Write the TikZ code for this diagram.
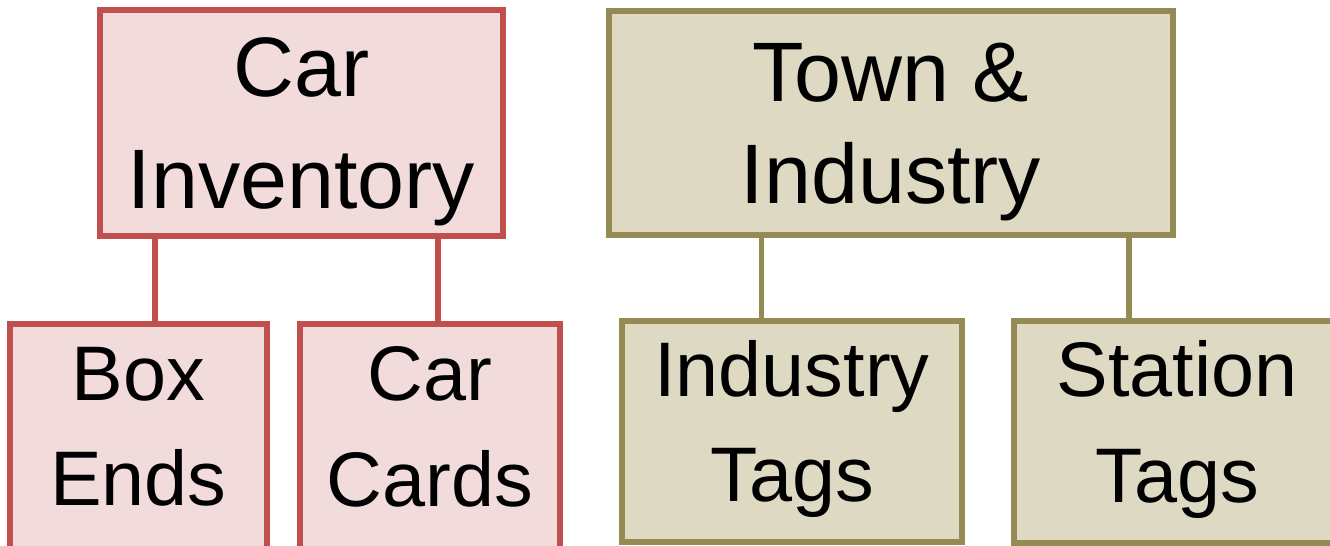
\documentclass[tikz,border=0pt]{standalone}
\usepackage{fontspec}
\setmainfont{Liberation Sans}
\usepackage{tikz}
\usepackage{xcolor}
\usetikzlibrary{positioning,calc}
\definecolor{rojo}{HTML}{C0504D}
\definecolor{rosa}{HTML}{F2DCDB}
\definecolor{oliva}{HTML}{948A54}
\definecolor{arena}{HTML}{DDD9C3}

\begin{document}
\begin{tikzpicture}[x=0.01cm,y=-0.01cm,
    caja/.style={draw,line width=1.6pt,align=center,inner sep=0pt},
    roja/.style={caja,draw=rojo,fill=rosa},
    verde/.style={caja,draw=oliva,fill=arena},
    alto/.style={font=\fontsize{24}{29}\selectfont,text depth=0pt},
    bajo/.style={font=\fontsize{22}{30}\selectfont,text depth=0.21cm}]
        % Organigrama simplificado: inventario de coches y pueblos
        \clip (0,0) rectangle (1330,546);

        \node[roja,alto,font=\fontsize{24}{32}\selectfont,minimum width=4.03cm,minimum height=2.26cm] (inv) at (301.5,123) {Car\\Inventory};
        \node[verde,alto,minimum width=5.64cm,minimum height=2.24cm] (town) at (891,123) {Town \&\\Industry};

        \node[roja,bajo,minimum width=2.57cm,minimum height=2.26cm] (ends) at (138.5,437) {Box\\Ends};
        \node[roja,bajo,minimum width=2.60cm,minimum height=2.26cm] (cards) at (430,437) {Car\\Cards};
        \node[verde,bajo,minimum width=3.40cm,minimum height=2.21cm] (indtags) at (792,431.5) {Industry\\Tags};
        \node[verde,bajo,minimum width=3.26cm,minimum height=2.22cm] (stattags) at (1177,432) {Station\\Tags};

        \coordinate (r1) at ($(inv.south west)!0.141!(inv.south east)$);
        \coordinate (r2) at ($(inv.south west)!0.834!(inv.south east)$);
        \coordinate (v1) at ($(town.south west)!0.273!(town.south east)$);
        \coordinate (v2) at ($(town.south west)!0.917!(town.south east)$);

        \draw[rojo,line width=1.6pt] (r1) -- (r1 |- ends.north);
        \draw[rojo,line width=1.6pt] (r2) -- (r2 |- cards.north);
        \draw[oliva,line width=1.6pt] (v1) -- (v1 |- indtags.north);
        \draw[oliva,line width=1.6pt] (v2) -- (v2 |- stattags.north);
\end{tikzpicture}
\end{document}
